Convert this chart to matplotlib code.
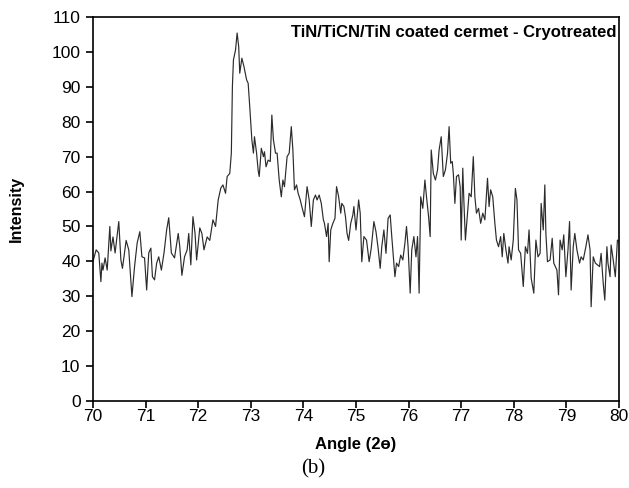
import matplotlib
matplotlib.use("Agg")
import matplotlib.pyplot as plt

# XRD scan
angle = [70.00, 70.06, 70.11, 70.15, 70.17, 70.19, 70.23, 70.27, 70.32, 70.34,
         70.38, 70.42, 70.49, 70.53, 70.56, 70.63, 70.68, 70.74, 70.79, 70.84,
         70.89, 70.93, 70.98, 71.02, 71.06, 71.10, 71.13, 71.17, 71.21, 71.25,
         71.30, 71.35, 71.40, 71.44, 71.49, 71.55, 71.62, 71.65, 71.69, 71.74,
         71.79, 71.82, 71.86, 71.90, 71.94, 71.97, 72.03, 72.07, 72.11, 72.17,
         72.22, 72.28, 72.33, 72.38, 72.43, 72.47, 72.52, 72.55, 72.60, 72.63,
         72.65, 72.67, 72.71, 72.74, 72.77, 72.79, 72.83, 72.87, 72.92, 72.95,
         72.98, 73.02, 73.05, 73.07, 73.11, 73.14, 73.16, 73.20, 73.24, 73.26,
         73.29, 73.33, 73.37, 73.40, 73.43, 73.47, 73.50, 73.54, 73.58, 73.61,
         73.64, 73.69, 73.73, 73.77, 73.80, 73.83, 73.87, 73.90, 73.94, 73.97,
         74.02, 74.07, 74.11, 74.15, 74.19, 74.23, 74.26, 74.30, 74.34, 74.38,
         74.40, 74.44, 74.47, 74.49, 74.52, 74.56, 74.60, 74.63, 74.67, 74.71,
         74.73, 74.77, 74.80, 74.83, 74.86, 74.90, 74.94, 74.96, 75.00, 75.05,
         75.08, 75.11, 75.15, 75.20, 75.25, 75.29, 75.34, 75.38, 75.42, 75.46,
         75.49, 75.53, 75.57, 75.61, 75.65, 75.68, 75.74, 75.77, 75.81, 75.85,
         75.89, 75.93, 75.96, 75.99, 76.03, 76.06, 76.10, 76.14, 76.17, 76.20,
         76.23, 76.27, 76.31, 76.34, 76.38, 76.41, 76.43, 76.47, 76.51, 76.55,
         76.58, 76.62, 76.66, 76.70, 76.74, 76.77, 76.80, 76.83, 76.85, 76.88,
         76.91, 76.95, 76.98, 77.00, 77.03, 77.05, 77.08, 77.12, 77.15, 77.19,
         77.23, 77.26, 77.29, 77.33, 77.37, 77.41, 77.45, 77.50, 77.53, 77.56,
         77.60, 77.64, 77.67, 77.71, 77.75, 77.78, 77.81, 77.85, 77.89, 77.91,
         77.95, 77.99, 78.03, 78.06, 78.09, 78.13, 78.18, 78.22, 78.26, 78.29,
         78.33, 78.38, 78.42, 78.46, 78.50, 78.52, 78.56, 78.59, 78.61, 78.64,
         78.69, 78.73, 78.76, 78.82, 78.85, 78.88, 78.92, 78.95, 78.99, 79.03,
         79.06, 79.09, 79.13, 79.16, 79.20, 79.25, 79.28, 79.32, 79.37, 79.41,
         79.45, 79.47, 79.51, 79.55, 79.59, 79.63, 79.66, 79.70, 79.73, 79.77,
         79.79, 79.83, 79.85, 79.89, 79.93, 79.97, 80.00]
intensity = [40.0, 43.3, 42.4, 34.2, 39.5, 37.5, 41.0, 37.5, 50.0, 43.0,
             47.0, 42.4, 51.4, 40.4, 38.0, 46.0, 43.3, 29.9, 38.5, 45.3,
             48.5, 41.3, 41.0, 31.8, 42.4, 43.8, 35.6, 34.7, 39.5, 41.3,
             37.5, 42.4, 49.0, 52.5, 42.4, 41.0, 48.0, 44.2, 36.0, 41.3,
             43.3, 48.0, 39.0, 52.8, 48.0, 40.4, 49.6, 48.0, 43.3, 47.0,
             46.0, 51.9, 50.0, 57.6, 61.0, 61.9, 59.5, 64.3, 65.2, 71.0,
             90.0, 97.7, 100.6, 105.4, 101.5, 93.9, 98.2, 95.8, 92.0, 91.0,
             84.3, 74.8, 71.0, 75.7, 71.0, 66.0, 64.3, 72.4, 70.0, 71.4,
             67.1, 69.0, 68.6, 81.9, 74.8, 71.0, 71.0, 63.3, 58.5, 63.3,
             61.4, 70.0, 71.0, 78.6, 71.9, 60.5, 61.9, 59.5, 57.6, 55.7,
             52.8, 61.4, 57.6, 50.0, 57.6, 59.0, 57.6, 59.0, 56.6, 51.9,
             50.9, 47.1, 50.9, 39.9, 49.0, 50.9, 52.3, 61.4, 58.5, 53.8,
             56.6, 55.7, 52.8, 48.0, 46.0, 50.9, 53.3, 55.7, 49.0, 57.6,
             53.8, 39.9, 47.1, 46.1, 39.9, 43.8, 51.4, 48.5, 43.8, 38.0,
             44.2, 49.0, 42.3, 52.3, 53.3, 47.1, 35.6, 39.5, 38.5, 41.8,
             40.4, 45.2, 50.0, 44.2, 30.9, 43.3, 47.1, 41.3, 47.1, 30.9,
             58.5, 55.2, 63.3, 58.5, 52.8, 47.1, 71.9, 65.2, 63.3, 66.2,
             71.9, 75.7, 64.3, 66.2, 71.0, 78.6, 68.1, 68.6, 65.2, 56.6,
             64.3, 64.8, 61.4, 46.1, 66.7, 57.6, 46.1, 53.8, 59.5, 58.5,
             70.0, 58.5, 53.8, 55.2, 50.9, 53.8, 51.9, 63.8, 55.7, 60.5,
             58.5, 50.9, 46.1, 44.2, 47.1, 41.3, 48.0, 43.3, 39.5, 44.2,
             40.4, 46.1, 60.9, 57.6, 43.3, 42.3, 32.8, 44.2, 42.3, 49.0,
             35.2, 30.9, 46.1, 41.3, 42.3, 56.6, 49.0, 61.9, 48.0, 39.9,
             40.4, 46.6, 39.5, 37.5, 30.4, 46.1, 43.3, 47.6, 35.6, 43.3,
             51.4, 31.8, 44.2, 48.0, 43.3, 39.5, 41.3, 40.4, 44.2, 47.6,
             43.3, 27.0, 41.3, 39.5, 39.0, 38.5, 42.3, 33.7, 28.9, 44.2,
             39.5, 35.6, 44.7, 40.4, 35.6, 46.1, 45.6]

x_ticks = list(range(70, 81))
y_ticks = list(range(0, 111, 10))

plt.rcParams['font.family'] = ['Liberation Sans', 'DejaVu Sans']

fig = plt.figure(figsize=(6.29, 4.88), dpi=100)
ax = fig.add_axes([93 / 629, 87 / 488, 526 / 629, 384 / 488])

ax.plot(angle, intensity, color='#2b2b2b', linewidth=0.85)

ax.set_xlim(70, 80)
ax.set_ylim(0, 110)
ax.set_xticks(x_ticks)
ax.set_yticks(y_ticks)
ax.tick_params(direction='out', length=5, width=1.2, labelsize=12.5)
ax.tick_params(axis='y', pad=4)
ax.tick_params(axis='x', pad=1)
for s in ax.spines.values():
    s.set_linewidth(1.2)

ax.set_xlabel('Angle (2ɵ)', fontsize=12, fontweight='bold', labelpad=9)
ax.set_ylabel('Intensity', fontsize=11.5, fontweight='bold', labelpad=20)
ax.text(0.995, 0.98, 'TiN/TiCN/TiN coated cermet - Cryotreated',
        transform=ax.transAxes, ha='right', va='top',
        fontsize=12, fontweight='bold')

fig.text(313 / 629, 1 - 469 / 488, '(b)', ha='center', va='center',
         fontsize=15, family=['Liberation Serif', 'DejaVu Serif'])

fig.savefig('out.png', dpi=100)
